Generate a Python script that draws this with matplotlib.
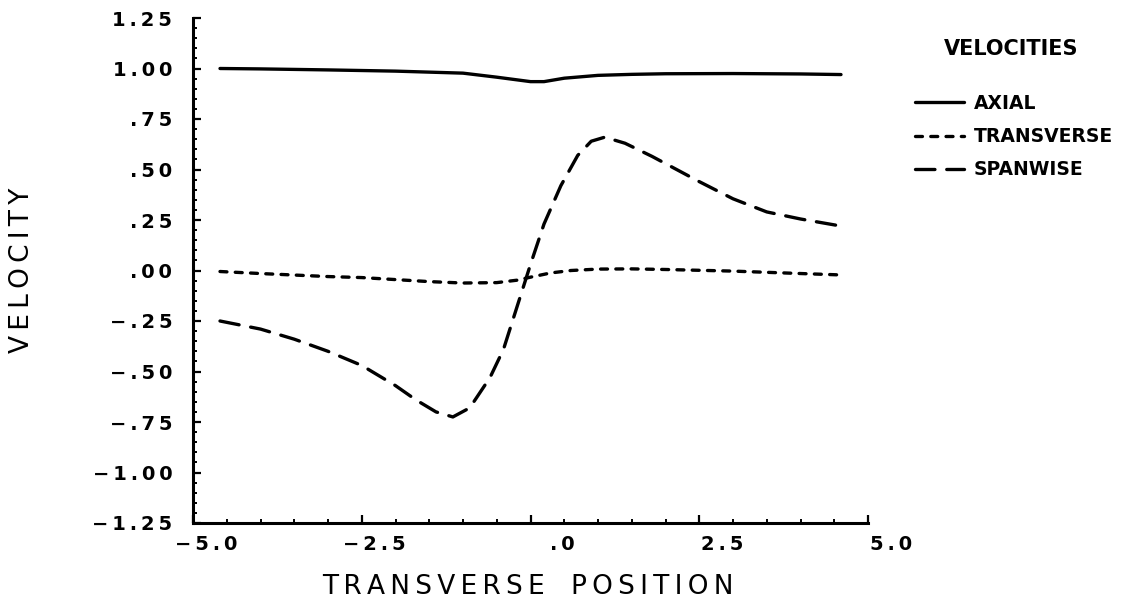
import matplotlib
matplotlib.use("Agg")
import matplotlib.pyplot as plt
import matplotlib.transforms as mtransforms
from matplotlib.ticker import MultipleLocator

# velocity profiles across the transverse position
axial_x = [-4.6, -4.0, -3.0, -2.0, -1.0, -0.5, 0.0, 0.2, 0.5, 1.0, 1.5, 2.0, 3.0, 4.0, 4.6]
axial_v = [1.000, 0.998, 0.993, 0.987, 0.977, 0.957, 0.935, 0.935, 0.952, 0.966, 0.971, 0.974, 0.975, 0.973, 0.970]

trans_x = [-4.6, -4.0, -3.0, -2.5, -2.0, -1.5, -1.0, -0.5, -0.2, 0.0, 0.3, 0.6, 1.0, 1.5, 2.0, 3.0, 4.0, 4.6]
trans_v = [-0.005, -0.015, -0.03, -0.035, -0.045, -0.055, -0.062, -0.06, -0.048, -0.033, -0.012, 0.0, 0.007, 0.008, 0.005, -0.003, -0.015, -0.022]

span_x = [-4.6, -4.0, -3.5, -3.0, -2.5, -2.0, -1.7, -1.4, -1.15, -0.9, -0.6, -0.4, -0.2, 0.0, 0.2,
          0.45, 0.7, 0.9, 1.1, 1.4, 1.8, 2.5, 3.0, 3.5, 4.0, 4.6]
span_v = [-0.25, -0.29, -0.34, -0.40, -0.47, -0.57, -0.64, -0.70, -0.725, -0.68, -0.53, -0.39, -0.18, 0.03, 0.23,
          0.42, 0.57, 0.64, 0.66, 0.63, 0.565, 0.44, 0.355, 0.29, 0.255, 0.22]

x_ticks = [-5.0, -2.5, 0.0, 2.5, 5.0]
x_tick_labels = ["\u22125.0", "\u22122.5", ".0", "2.5", "5.0"]
y_ticks = [1.25, 1.00, 0.75, 0.50, 0.25, 0.00, -0.25, -0.50, -0.75, -1.00, -1.25]
y_tick_labels = ["1.25", "1.00", ".75", ".50", ".25", ".00",
                 "\u2212.25", "\u2212.50", "\u2212.75", "\u22121.00", "\u22121.25"]

series_names = ["AXIAL", "TRANSVERSE", "SPANWISE"]

THIN = "\u2009"


def spaced(s, sep=THIN):
    return sep.join(s)


plt.rcParams["font.family"] = "DejaVu Sans"
plt.rcParams["lines.scale_dashes"] = False

fig = plt.figure(figsize=(11.33, 6.08), dpi=100)
ax = fig.add_axes([193 / 1133, 1 - 523 / 608, (868 - 193) / 1133, (523 - 18) / 608])

lw = 2.4
l1, = ax.plot(axial_x, axial_v, color="black", lw=lw, solid_capstyle="round")
l2, = ax.plot(trans_x, trans_v, color="black", lw=lw, dashes=(5.0, 6.0), dash_capstyle="round")
l3, = ax.plot(span_x, span_v, color="black", lw=lw, dashes=(14.0, 8.5), dash_capstyle="round")

ax.set_xlim(-5, 5)
ax.set_ylim(-1.25, 1.25)

for side in ["top", "right"]:
    ax.spines[side].set_visible(False)
for side in ["left", "bottom"]:
    ax.spines[side].set_linewidth(2.2)

ax.set_xticks(x_ticks, [spaced(t) for t in x_tick_labels])
ax.set_yticks(y_ticks, [spaced(t) for t in y_tick_labels])
ax.xaxis.set_minor_locator(MultipleLocator(0.5))
ax.yaxis.set_minor_locator(MultipleLocator(0.05))
ax.tick_params(which="major", direction="in", length=6, width=1.6, labelsize=14, pad=9)
ax.tick_params(which="minor", direction="in", length=3, width=1.4)
ax.tick_params(axis="y", which="major", pad=15)
for lab in ax.get_xticklabels() + ax.get_yticklabels():
    lab.set_fontweight("bold")

# x tick labels sit to the right of their ticks
offset = mtransforms.ScaledTranslation(44 / 100, 0, fig.dpi_scale_trans)
for lab in ax.get_xticklabels():
    lab.set_horizontalalignment("right")
    lab.set_transform(lab.get_transform() + offset)

fig.text(528 / 1133, 1 - 587 / 608, spaced("TRANSVERSE") + "\u2003" + spaced("POSITION"),
         fontsize=19, ha="center", va="center")
fig.text(22 / 1133, 1 - 270 / 608, spaced("VELOCITY"),
         fontsize=19, rotation=90, ha="center", va="center")

fig.text(1011 / 1133, 1 - 49 / 608, "VELOCITIES", fontsize=15, fontweight="bold",
         ha="center", va="center")
ax.legend([l1, l2, l3], series_names, loc="upper left",
          bbox_to_anchor=(915 / 1133, 1 - 94 / 608), bbox_transform=fig.transFigure,
          frameon=False, borderpad=0, borderaxespad=0, handlelength=2.6, handletextpad=0.55,
          labelspacing=0.75, prop={"weight": "bold", "size": 13.5})

fig.savefig("out.png", dpi=100, facecolor="white")
